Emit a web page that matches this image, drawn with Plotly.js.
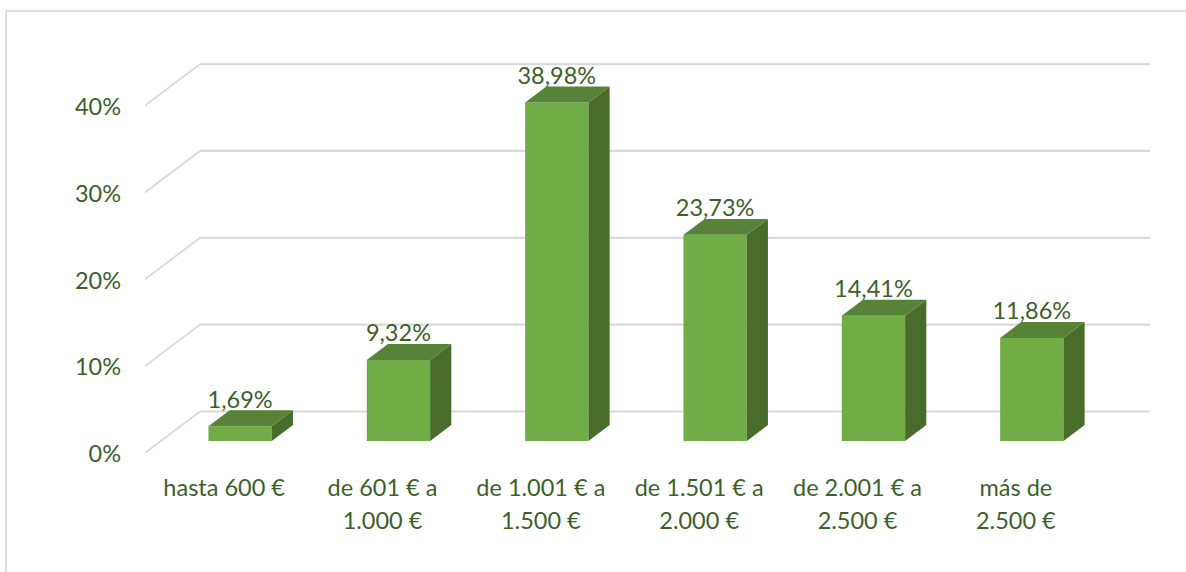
<!DOCTYPE html>
<html>
<head>
<meta charset="utf-8">
<script src="https://cdn.plot.ly/plotly-3.0.1.min.js"></script>
<style>
html,body{margin:0;padding:0;background:#fff;overflow:hidden}
#frame{position:absolute;left:5px;top:10px;width:1181px;height:562px;box-sizing:border-box;border-left:2px solid #dedede;border-top:2px solid #dedede}
#chart{position:absolute;left:0;top:0;width:1186px;height:572px}
</style>
</head>
<body>
<div id="frame"></div>
<div id="chart"></div>
<script>
const categories = ['hasta 600 €', 'de 601 € a<br>1.000 €', 'de 1.001 € a<br>1.500 €', 'de 1.501 € a<br>2.000 €', 'de 2.001 € a<br>2.500 €', 'más de<br>2.500 €'];
const values = [1.69, 9.32, 38.98, 23.73, 14.41, 11.86];
const valueLabels = ['1,69%', '9,32%', '38,98%', '23,73%', '14,41%', '11,86%'];
const yTicks = [0, 10, 20, 30, 40];
const yTickLabels = ['0%', '10%', '20%', '30%', '40%'];

const TEXT = '#3d5f2a', FRONT = '#70ad47', TOP = '#568337', SIDE = '#486d2b', GRID = '#d9d9d9';
const FS = 23.5;
const W = 1186, H = 572, L = 145, R = 1150, T = 60, B = 453;
const pxPerCat = 950 / 6, pxPerPct = 8.685;
const xRange = [-0.5, -0.5 + (R - L) / pxPerCat];
const yRange = [0, (B - T) / pxPerPct];
// oblique depth: full wall depth in axis units
const depthX = 55 / pxPerCat, depthY = 41.5 / pxPerPct;
const barD0 = 0.29, barD1 = 0.675, barW = 0.40;
const px = (x, d) => x + d * depthX;
const py = (v, d) => v + d * depthY;

const xs = categories.map((_, i) => i);
const barX = xs.map(x => px(x, barD0));
const baseY = py(0, barD0);

const front = {
  type: 'bar', x: barX, y: values, base: values.map(() => baseY), width: barW,
  marker: {color: FRONT, line: {width: 0}}, hoverinfo: 'skip'
};
function poly(arrX, arrY, color) {
  return {type: 'scatter', mode: 'lines', x: arrX, y: arrY, fill: 'toself', fillcolor: color,
    line: {width: 0, color: color}, hoverinfo: 'skip'};
}
const sides = values.map((v, i) => {
  const r = barX[i] + barW / 2;
  const dd = barD1 - barD0;
  return poly([r, r, r + dd * depthX, r + dd * depthX, r],
              [baseY, baseY + v, baseY + v + dd * depthY, baseY + dd * depthY, baseY], SIDE);
});
const tops = values.map((v, i) => {
  const l = barX[i] - barW / 2, r = barX[i] + barW / 2;
  const dd = barD1 - barD0, ox = dd * depthX, oy = dd * depthY;
  return poly([l, r, r + ox, l + ox, l],
              [baseY + v, baseY + v, baseY + v + oy, baseY + v + oy, baseY + v], TOP);
});
const labels = {
  type: 'scatter', mode: 'text', x: barX, y: values.map(v => baseY + v + 24.5 / pxPerPct),
  text: valueLabels, textposition: 'middle center', cliponaxis: false,
  textfont: {family: 'Lato, Carlito, sans-serif', size: FS, color: TEXT}, hoverinfo: 'skip'
};

const shapes = [];
yTicks.forEach(t => {
  shapes.push({type: 'line', layer: 'below', xref: 'x', yref: 'y', x0: -0.5, y0: t, x1: px(-0.5, 1), y1: py(t, 1),
    line: {color: GRID, width: 1.8}});
  shapes.push({type: 'line', layer: 'below', xref: 'x', yref: 'y', x0: px(-0.5, 1), y0: py(t, 1), x1: xRange[1], y1: py(t, 1),
    line: {color: GRID, width: 2.2}});
});

const span = s => s.split('<br>').map(p => `<span style="font-size:${FS}px">${p}</span>`).join('<br>');

Plotly.newPlot('chart', [front, ...sides, ...tops, labels], {
  width: W, height: H,
  margin: {l: L, r: W - R, t: T, b: H - B, pad: 0},
  paper_bgcolor: 'rgba(0,0,0,0)', plot_bgcolor: 'rgba(0,0,0,0)',
  showlegend: false, shapes: shapes, barmode: 'overlay',
  font: {family: 'Lato, Carlito, sans-serif', size: FS, color: TEXT},
  xaxis: {range: xRange, tickmode: 'array', tickvals: xs, ticktext: categories.map(span), tickangle: 0,
    showgrid: false, zeroline: false, showline: false, ticks: '', ticklabelstandoff: 17,
    tickfont: {family: 'Lato, Carlito, sans-serif', size: 25.4, color: TEXT}, fixedrange: true},
  yaxis: {range: yRange, tickmode: 'array', tickvals: yTicks, ticktext: yTickLabels,
    showgrid: false, zeroline: false, showline: false, ticks: '', ticklabelstandoff: 23, ticklabelshift: 1,
    tickfont: {family: 'Lato, Carlito, sans-serif', size: FS, color: TEXT}, fixedrange: true}
}, {displayModeBar: false, staticPlot: true});
</script>
</body>
</html>
